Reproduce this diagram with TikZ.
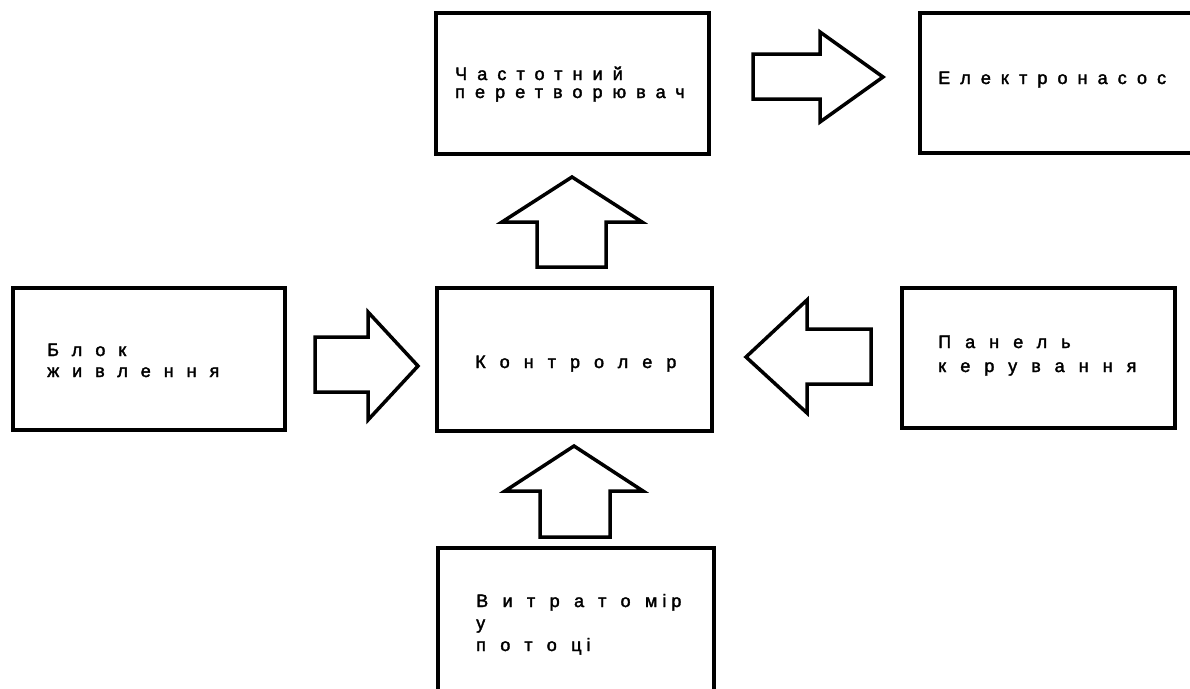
\documentclass[tikz,border=0pt]{standalone}
\usepackage{fontspec}
\setmainfont{Liberation Sans}
\newfontfamily\lblfont[LetterSpace=56,FakeBold=2]{Liberation Sans}
\newfontfamily\lblmidfont[LetterSpace=72,FakeBold=2]{Liberation Sans}
\newfontfamily\lblwidefont[LetterSpace=78,FakeBold=2]{Liberation Sans}
\newfontfamily\lblmeterfont[LetterSpace=80,FakeBold=2]{Liberation Sans}
\newcommand{\tk}{\kern5pt}
\begin{document}
\begin{tikzpicture}[x=1pt,y=-1pt,
  box/.style={draw, line width=4pt, rectangle, inner sep=0pt, fill=white},
  flow/.style={draw, line width=3.5pt, line join=miter, fill=white},
  lbl/.style={anchor=base west, inner sep=0pt, align=left,
    font=\lblfont\fontsize{18}{#1}\selectfont},
  lblmid/.style={anchor=base west, inner sep=0pt, align=left,
    font=\lblmidfont\fontsize{18}{#1}\selectfont},
  lblwide/.style={anchor=base west, inner sep=0pt, align=left,
    font=\lblwidefont\fontsize{18}{#1}\selectfont},
  lblmeter/.style={anchor=base west, inner sep=0pt, align=left,
    font=\lblmeterfont\fontsize{18}{#1}\selectfont}]
\useasboundingbox (0,0) rectangle (1190,688);
\clip (0,0) rectangle (1190,688);

% blocks
\node[box, minimum width=273pt, minimum height=141pt] (freq)  at (572.5,83.5) {};
\node[box, minimum width=280pt, minimum height=140pt] (pump)  at (1060,83)    {};
\node[box, minimum width=272pt, minimum height=142pt] (psu)   at (149,359)    {};
\node[box, minimum width=275pt, minimum height=143pt] (ctrl)  at (574.5,359.5){};
\node[box, minimum width=273pt, minimum height=140pt] (panel) at (1038.5,358) {};
\node[box, minimum width=276pt, minimum height=152pt] (meter) at (576,624)    {};

% block captions (anchored at the baseline of their last line)
\node[lbl=18pt]      (freq-t)  at (455,98)  {Частотний\\перетворювач};
\node[lbl=18pt]      (pump-t)  at (938,84)  {Електронасос};
\node[lblmid=21pt]   (psu-t)   at (47,377)  {Блок\\живлення};
\node[lblwide=18pt]  (ctrl-t)  at (475,368) {Контролер};
\node[lblwide=24pt]  (panel-t) at (938,372) {Панель\\керування};
\node[lblmeter=22pt] (meter-t) at (476,651) {Витратом\tk і\tk р\\у\\потоц\tk і};

% block arrows between the blocks
\draw[flow] (753,54) -- (820,54) -- (820,32) -- (883,77) -- (820,122) -- (820,99) -- (753,99) -- cycle;
\draw[flow] (315,337) -- (368,337) -- (368,312) -- (418,366) -- (368,420) -- (368,392) -- (315,392) -- cycle;
\draw[flow] (871,329) -- (807,329) -- (807,300) -- (746,357) -- (807,413) -- (807,384) -- (871,384) -- cycle;
\draw[flow] (537,267) -- (537,222) -- (502,222) -- (572,177) -- (642,222) -- (606,222) -- (606,267) -- cycle;
\draw[flow] (540,537) -- (540,491) -- (505,491) -- (574,446) -- (643,491) -- (610,491) -- (610,537) -- cycle;
\end{tikzpicture}
\end{document}
